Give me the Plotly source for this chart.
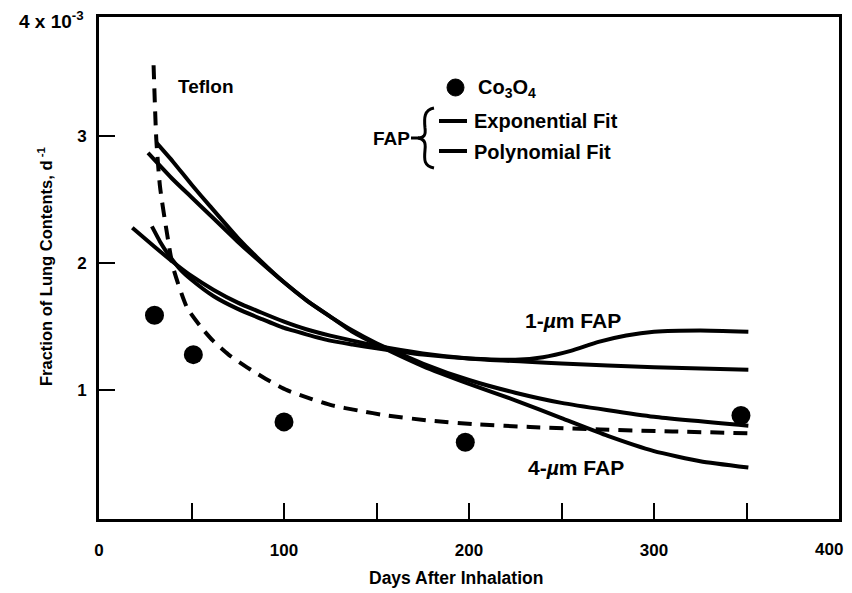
import plotly.graph_objects as go

# ---- data (fraction of lung contents per day, x 10^-3) ----
co3o4_days = [30, 51, 100, 198, 347]
co3o4_vals = [1.59, 1.28, 0.75, 0.59, 0.80]

teflon_days = [29.5, 31, 33, 36.7, 40, 47.6, 55, 61.6, 70, 80, 90, 101.6, 115, 126, 140, 155.7, 179, 205, 233, 271, 310, 351]
teflon_vals = [3.56, 2.97, 2.60, 2.24, 1.97, 1.65, 1.50, 1.39, 1.28, 1.18, 1.09, 1.00, 0.93, 0.88, 0.84, 0.80, 0.76, 0.73, 0.71, 0.69, 0.675, 0.66]

fap1_exp_days = [18, 30, 40, 50, 62, 75, 88, 100, 112, 125, 137, 150, 175, 200, 250, 300, 351]
fap1_exp_vals = [2.28, 2.13, 2.01, 1.90, 1.79, 1.69, 1.61, 1.54, 1.48, 1.43, 1.39, 1.35, 1.29, 1.25, 1.21, 1.18, 1.16]

fap1_poly_days = [28.6, 33, 37, 44, 50, 62, 75, 88, 100, 112, 125, 137, 150, 175, 200, 225, 240, 255, 270, 285, 300, 325, 351]
fap1_poly_vals = [2.29, 2.17, 2.08, 1.95, 1.87, 1.74, 1.64, 1.56, 1.49, 1.44, 1.39, 1.36, 1.33, 1.28, 1.25, 1.24, 1.26, 1.31, 1.38, 1.43, 1.46, 1.47, 1.46]

fap4_exp_days = [31, 40, 50, 60, 75, 88, 100, 112, 125, 137, 150, 175, 200, 225, 250, 300, 351]
fap4_exp_vals = [2.95, 2.80, 2.62, 2.45, 2.20, 2.01, 1.85, 1.71, 1.58, 1.47, 1.37, 1.21, 1.08, 0.98, 0.90, 0.79, 0.72]

fap4_poly_days = [26.5, 40, 50, 60, 75, 88, 100, 112, 125, 137, 150, 175, 200, 225, 250, 275, 300, 325, 351]
fap4_poly_vals = [2.87, 2.66, 2.52, 2.38, 2.17, 2.00, 1.85, 1.71, 1.58, 1.46, 1.36, 1.19, 1.05, 0.92, 0.78, 0.64, 0.52, 0.44, 0.39]

x_tickvals = [0, 50, 100, 150, 200, 250, 300, 350, 400]
x_ticktext = ["<b>0</b>", "", "<b>100</b>", "", "<b>200</b>", "", "<b>300</b>", "", ""]
x_last_label = "<b>400</b>"
y_tickvals = [1, 2, 3]
y_ticktext = ["<b>1</b>", "<b>2</b>", "<b>3</b>"]

FONT = "Liberation Sans, Arial, sans-serif"
W, H = 852, 593
L, R, T, B = 99, 839, 17, 519


def px(x):
    return (x - L) / (R - L)


def py(y):
    return (B - y) / (B - T)


fig = go.Figure()

line_style = dict(color="black", width=4)
for xs, ys in [(fap1_exp_days, fap1_exp_vals), (fap1_poly_days, fap1_poly_vals),
               (fap4_exp_days, fap4_exp_vals), (fap4_poly_days, fap4_poly_vals)]:
    fig.add_trace(go.Scatter(x=xs, y=ys, mode="lines", line=dict(shape="spline", smoothing=0.5, **line_style),
                             showlegend=False, hoverinfo="skip"))

fig.add_trace(go.Scatter(x=teflon_days, y=teflon_vals, mode="lines",
                         line=dict(color="black", width=4, dash="14px,9px", shape="spline", smoothing=0.6),
                         showlegend=False, hoverinfo="skip"))

fig.add_trace(go.Scatter(x=co3o4_days, y=co3o4_vals, mode="markers",
                         marker=dict(color="black", size=19), showlegend=False, hoverinfo="skip"))

annotations = []


def text(x, y, s, size=17, xanchor="center", yanchor="middle", **kw):
    annotations.append(dict(x=px(x), y=py(y), xref="paper", yref="paper", text=s, showarrow=False,
                            xanchor=xanchor, yanchor=yanchor,
                            font=dict(family=FONT, size=size, color="black"), **kw))


text(206, 86, "<b>Teflon</b>", size=19)
text(476, 89, "<b>Co<sub>3</sub>O<sub>4</sub></b>", size=20, xanchor="left")
text(472, 121, "<b>Exponential Fit</b>", size=20, xanchor="left")
text(472, 152, "<b>Polynomial Fit</b>", size=20, xanchor="left")
text(412, 138, "<b>FAP</b>", size=19, xanchor="right")
text(573, 320, "<b>1-<i>µ</i>m FAP</b>", size=21)
text(576, 467, "<b>4-<i>µ</i>m FAP</b>", size=21)
text(86, 20, "<b>4 x 10<sup>-3</sup></b>", size=19, xanchor="right")
text(456, 578, "<b>Days After Inhalation</b>", size=17.5)
text(45, 266, "<b>Fraction of Lung Contents, d<sup> -1</sup></b>", size=16.5, textangle=-90)
text(829, 549, x_last_label, size=17)

shapes = []
# legend symbols
shapes.append(dict(type="circle", xref="paper", yref="paper", x0=px(447), x1=px(464), y0=py(96), y1=py(79),
                   fillcolor="black", line=dict(color="black", width=1)))
for yy in (121, 151):
    shapes.append(dict(type="line", xref="paper", yref="paper", x0=px(439), x1=px(467), y0=py(yy), y1=py(yy),
                       line=dict(color="black", width=4)))


def path_px(pts_cmds):
    out = []
    for c in pts_cmds:
        if isinstance(c, str):
            out.append(c)
        else:
            out.append(f"{px(c[0]):.5f},{py(c[1]):.5f}")
    return " ".join(out)


brace = path_px(["M", (434, 108), "C", (424, 110), (424, 118), (425, 128), "C", (426, 135), (424, 138), (418, 138),
                 "C", (424, 139), (426, 142), (425, 150), "C", (424, 160), (424, 166), (434, 168)])
shapes.append(dict(type="path", xref="paper", yref="paper", path=brace, line=dict(color="black", width=3)))
shapes.append(dict(type="line", xref="paper", yref="paper", x0=px(411), x1=px(419), y0=py(138), y1=py(138),
                   line=dict(color="black", width=3)))

fig.update_layout(
    width=W, height=H,
    margin=dict(l=L, r=W - R, t=T, b=H - B, pad=0, autoexpand=False),
    paper_bgcolor="white", plot_bgcolor="white",
    annotations=annotations, shapes=shapes,
    font=dict(family=FONT, size=17, color="black"),
)
fig.update_xaxes(range=[0, 400], tickvals=x_tickvals, ticktext=x_ticktext, ticks="inside", ticklen=16,
                 tickwidth=2, tickcolor="black", showline=True, linecolor="black", linewidth=3, mirror=True,
                 showgrid=False, zeroline=False, ticklabelstandoff=14, automargin=False,
                 tickfont=dict(family=FONT, size=17, color="black"))
fig.update_yaxes(range=[-0.015, 3.94], tickvals=y_tickvals, ticktext=y_ticktext, ticks="inside", ticklen=16,
                 tickwidth=2, tickcolor="black", showline=True, linecolor="black", linewidth=3, mirror=True,
                 showgrid=False, zeroline=False, ticklabelstandoff=6, automargin=False,
                 tickfont=dict(family=FONT, size=17, color="black"))

fig.write_html("out.html")
